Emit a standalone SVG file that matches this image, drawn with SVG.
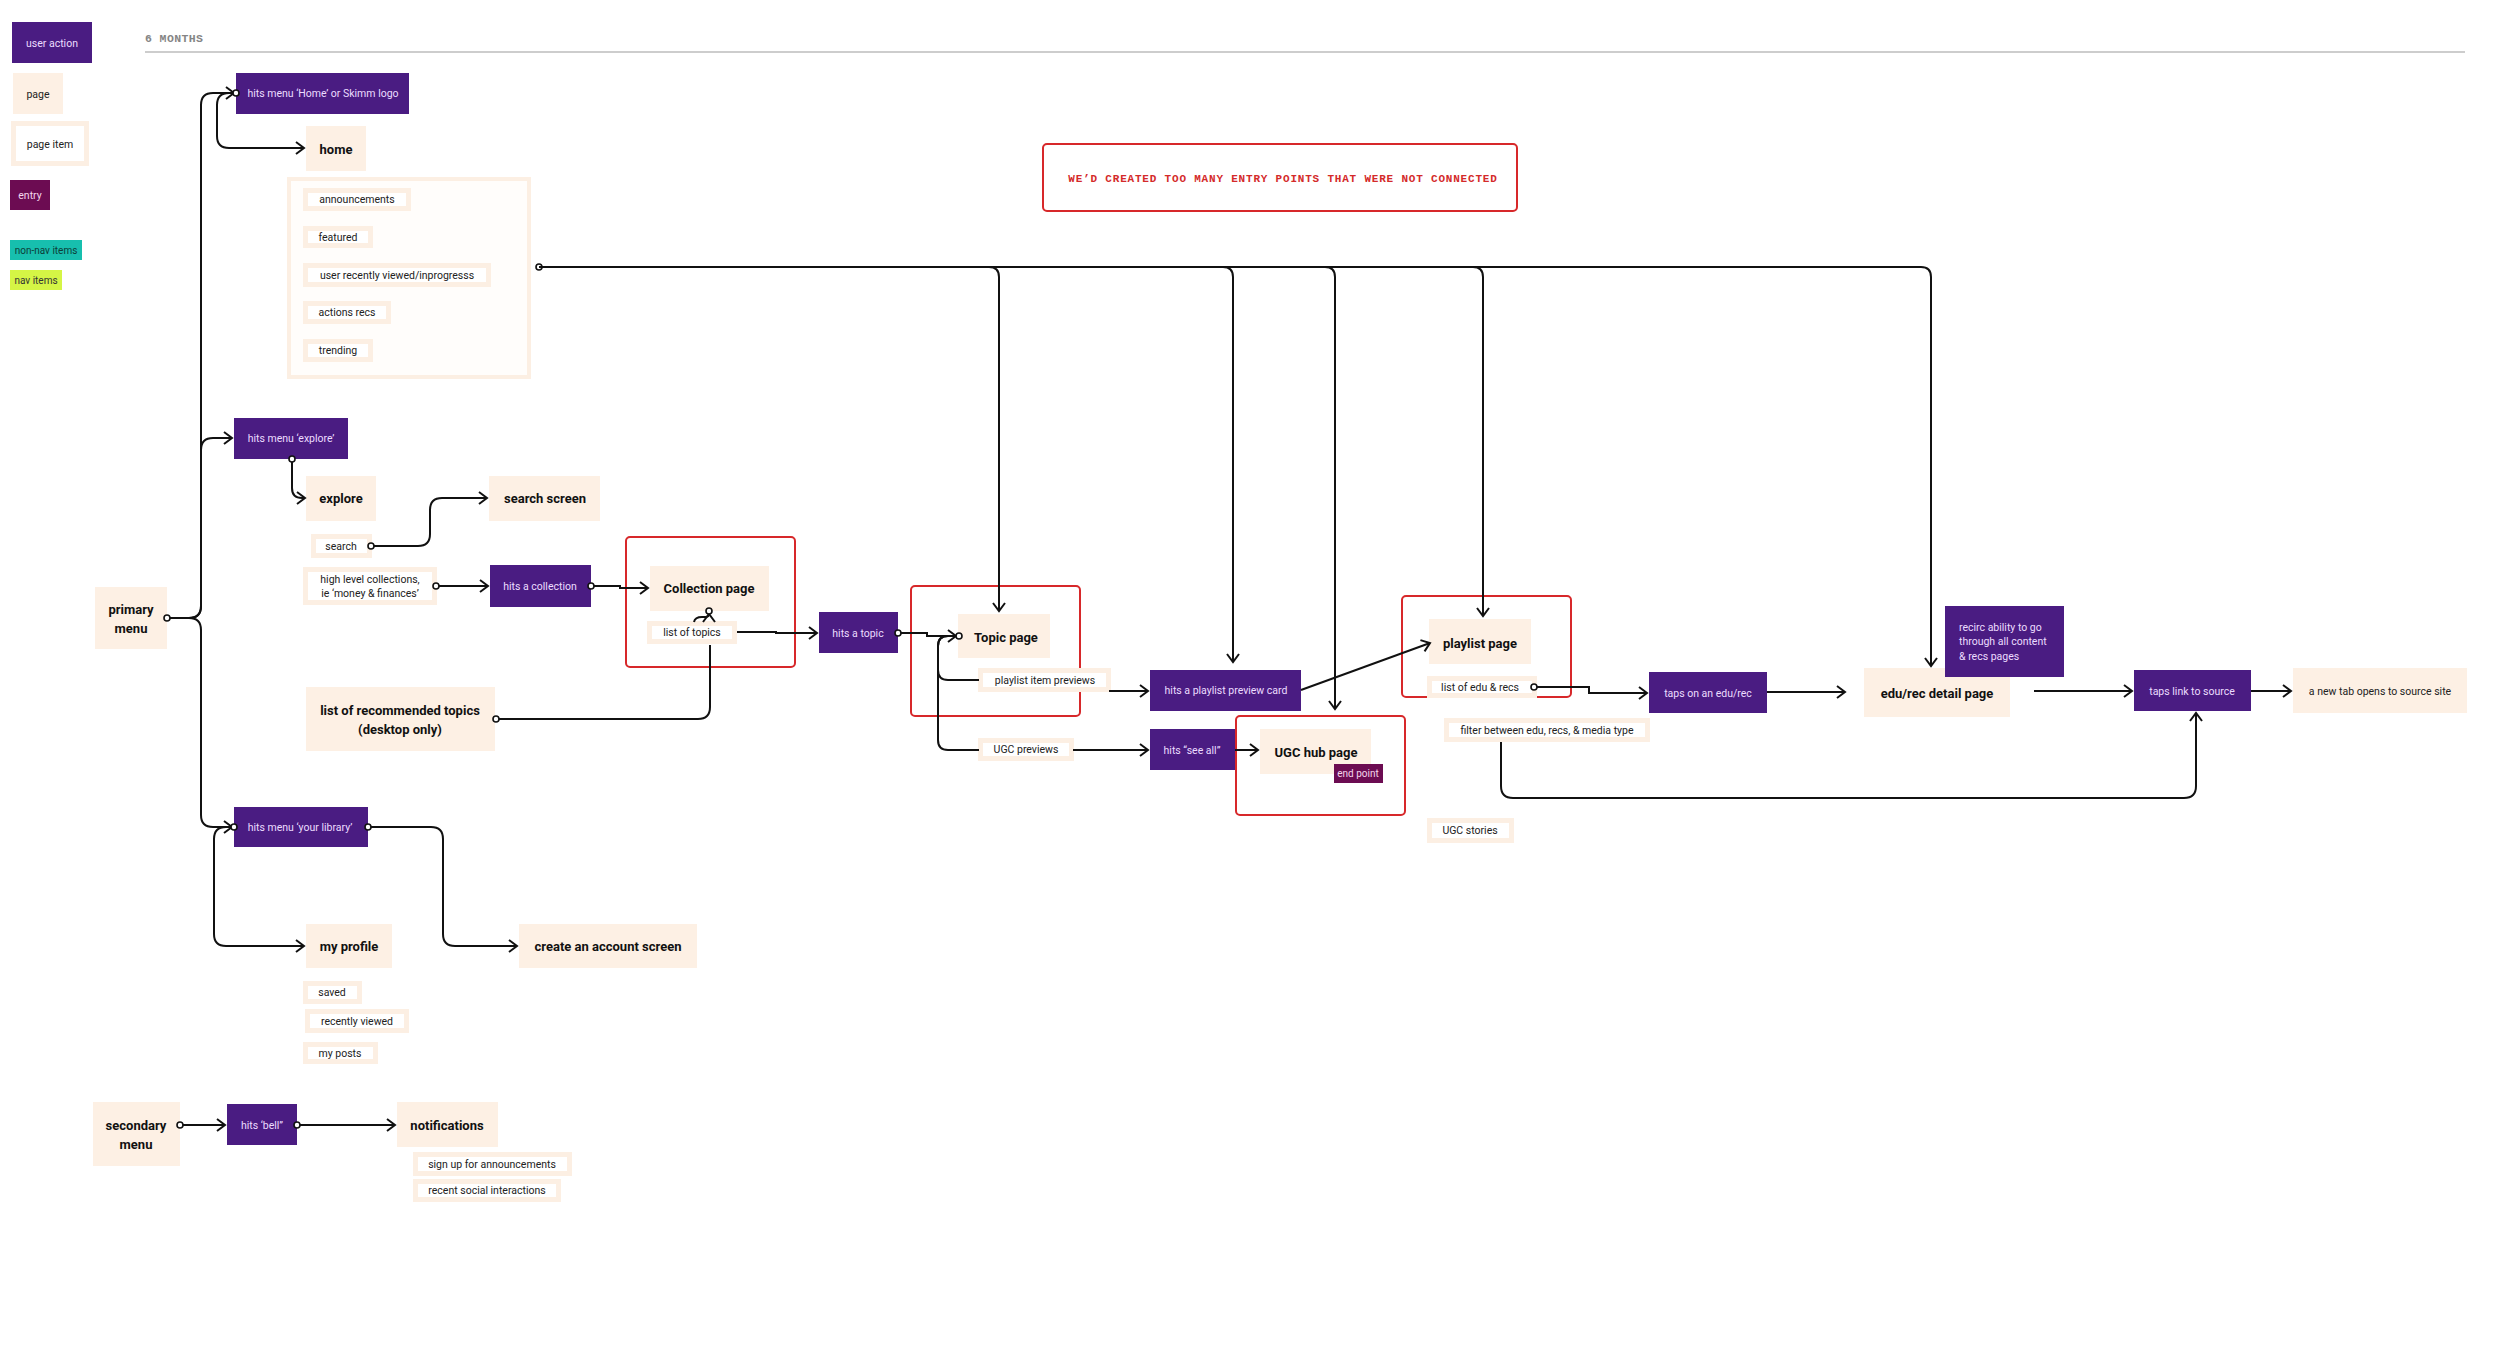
<svg xmlns="http://www.w3.org/2000/svg" width="2500" height="1356" viewBox="0 0 2500 1356">
<defs>
<style>
.bg{fill:#ffffff}
.act{fill:#4a1c82}
.pg{fill:#fdf0e4}
.it{fill:#ffffff;stroke:#fcefe3;stroke-width:5}
.ent{fill:#6c0c52}
.red{fill:none;stroke:#d7282a;stroke-width:2}
text{font-family:Roboto,"Liberation Sans",sans-serif;text-anchor:middle;dominant-baseline:central}
.ta{font-size:10.5px;fill:#ecdcff}
.tb{font-size:13px;font-weight:bold;fill:#111}
.ti{font-size:10.5px;fill:#222}
.c{fill:none;stroke:#111;stroke-width:2}
.mono{font-family:"Liberation Mono","DejaVu Sans Mono",monospace;font-weight:bold}
</style>
<marker id="arr" viewBox="-10 -8 12 16" refX="0" refY="0" markerWidth="12" markerHeight="16" markerUnits="userSpaceOnUse" orient="auto">
<path d="M-8,-6 L0,0 L-8,6" fill="none" stroke="#111" stroke-width="2"/>
</marker>
<marker id="dot" viewBox="-5 -5 10 10" refX="0" refY="0" markerWidth="10" markerHeight="10" markerUnits="userSpaceOnUse">
<circle cx="0" cy="0" r="3" fill="#fff" stroke="#111" stroke-width="1.6"/>
</marker>
</defs>
<rect class="bg" x="0" y="0" width="2500" height="1356"/>

<!-- legend -->
<g id="legend">
<rect class="act" x="12" y="22" width="80" height="41"/><text class="ta" x="52" y="43">user action</text>
<rect class="pg" x="13" y="73" width="50" height="41"/><text class="ti" x="38" y="94">page</text>
<rect class="it" x="13.5" y="123.5" width="73" height="40"/><text class="ti" x="50" y="144">page item</text>
<rect class="ent" x="10" y="180" width="40" height="30"/><text x="30" y="195" style="font-size:10.5px;fill:#f4d6ec">entry</text>
<rect x="10" y="240" width="72" height="20" fill="#17bfae"/><text x="46" y="250" style="font-size:10px;fill:#0d3d38">non-nav items</text>
<rect x="10" y="270" width="52" height="20" fill="#d5f545"/><text x="36" y="280" style="font-size:10px;fill:#333">nav items</text>
</g>

<g id="timeline">
<text class="mono" x="145" y="38" style="text-anchor:start;font-size:11.5px;letter-spacing:0.4px;fill:#858585">6 MONTHS</text>
<line x1="145" y1="52" x2="2465" y2="52" stroke="#bdbdbd" stroke-width="1.5"/>
</g>

<g id="note">
<rect class="red" x="1043" y="144" width="474" height="67" rx="4"/>
<text class="mono" x="1283" y="179" style="font-size:11px;letter-spacing:0.8px;fill:#d42a2a">WE’D CREATED TOO MANY ENTRY POINTS THAT WERE NOT CONNECTED</text>
</g>

<!-- red highlight boxes -->
<g id="highlights">
<rect class="red" x="626" y="537" width="169" height="130" rx="4"/>
<rect class="red" x="911" y="586" width="169" height="130" rx="4"/>
<rect class="red" x="1236" y="716" width="169" height="99" rx="4"/>
<rect class="red" x="1402" y="596" width="169" height="101" rx="4"/>
</g>

<!-- home section -->
<g id="n-hits-home"><rect class="act" x="236" y="73" width="173" height="41"/><text class="ta" x="323" y="93">hits menu ‘Home’ or Skimm logo</text></g>
<g id="n-home"><rect class="pg" x="306" y="126" width="60" height="45"/><text class="tb" x="336" y="149">home</text></g>
<g id="n-home-items">
<rect x="289" y="179" width="240" height="198" fill="#fffdfb" stroke="#fcefe3" stroke-width="4"/>
<rect class="it" x="305.5" y="190.5" width="103" height="18"/><text class="ti" x="357" y="199.5">announcements</text>
<rect class="it" x="305.5" y="228.5" width="65" height="17"/><text class="ti" x="338" y="237">featured</text>
<rect class="it" x="305.5" y="265.5" width="183" height="19"/><text class="ti" x="397" y="275">user recently viewed/inprogresss</text>
<rect class="it" x="305.5" y="303.5" width="83" height="18"/><text class="ti" x="347" y="312.5">actions recs</text>
<rect class="it" x="305.5" y="341.5" width="65" height="18"/><text class="ti" x="338" y="350.5">trending</text>
</g>

<!-- primary menu -->
<g id="n-primary"><rect class="pg" x="95" y="587" width="72" height="62"/><text class="tb" x="131" y="609">primary</text><text class="tb" x="131" y="628">menu</text></g>

<!-- explore section -->
<g id="n-hits-explore"><rect class="act" x="234" y="418" width="114" height="41"/><text class="ta" x="291" y="438">hits menu ‘explore’</text></g>
<g id="n-explore"><rect class="pg" x="306" y="476" width="70" height="45"/><text class="tb" x="341" y="498">explore</text></g>
<g id="n-search-screen"><rect class="pg" x="489" y="476" width="111" height="45"/><text class="tb" x="545" y="498">search screen</text></g>
<g id="n-search"><rect class="it" x="313.5" y="536.5" width="56" height="19"/><text class="ti" x="341" y="546">search</text></g>
<g id="n-high-level"><rect class="it" x="305.5" y="569.5" width="129" height="33"/><text class="ti" x="370" y="579">high level collections,</text><text class="ti" x="370" y="593">ie ‘money &amp; finances’</text></g>
<g id="n-hits-collection"><rect class="act" x="490" y="565" width="101" height="42"/><text class="ta" x="540" y="586">hits a collection</text></g>
<g id="n-collection"><rect class="pg" x="650" y="566" width="119" height="45"/><text class="tb" x="709" y="588">Collection page</text></g>
<g id="n-list-topics"><rect class="it" x="649.5" y="623.5" width="85" height="18"/><text class="ti" x="692" y="632.5">list of topics</text></g>
<g id="n-rec-topics"><rect class="pg" x="306" y="687" width="189" height="64"/><text class="tb" x="400" y="710">list of recommended topics</text><text class="tb" x="400" y="729">(desktop only)</text></g>

<!-- library section -->
<g id="n-hits-library"><rect class="act" x="234" y="807" width="134" height="40"/><text class="ta" x="300" y="827">hits menu ‘your library’</text></g>
<g id="n-profile"><rect class="pg" x="306" y="924" width="86" height="44"/><text class="tb" x="349" y="946">my profile</text></g>
<g id="n-create-account"><rect class="pg" x="519" y="924" width="178" height="44"/><text class="tb" x="608" y="946">create an account screen</text></g>
<g id="n-saved"><rect class="it" x="305.5" y="983.5" width="54" height="18"/><text class="ti" x="332" y="992.5">saved</text></g>
<g id="n-recently"><rect class="it" x="307.5" y="1011.5" width="99" height="19"/><text class="ti" x="357" y="1021">recently viewed</text></g>
<g id="n-posts"><rect class="it" x="305.5" y="1044.5" width="70" height="17"/><text class="ti" x="340" y="1053">my posts</text></g>

<!-- secondary menu -->
<g id="n-secondary"><rect class="pg" x="93" y="1102" width="87" height="64"/><text class="tb" x="136" y="1125">secondary</text><text class="tb" x="136" y="1144">menu</text></g>
<g id="n-hits-bell"><rect class="act" x="227" y="1104" width="70" height="41"/><text class="ta" x="262" y="1125">hits ‘bell”</text></g>
<g id="n-notifications"><rect class="pg" x="397" y="1102" width="101" height="45"/><text class="tb" x="447" y="1125">notifications</text></g>
<g id="n-signup"><rect class="it" x="415.5" y="1154.5" width="154" height="19"/><text class="ti" x="492" y="1164">sign up for announcements</text></g>
<g id="n-social"><rect class="it" x="415.5" y="1181.5" width="143" height="18"/><text class="ti" x="487" y="1190.5">recent social interactions</text></g>

<!-- topic section -->
<g id="n-hits-topic"><rect class="act" x="819" y="612" width="79" height="41"/><text class="ta" x="858" y="633">hits a topic</text></g>
<g id="n-topic"><rect class="pg" x="958" y="614" width="92" height="44"/><text class="tb" x="1006" y="637">Topic page</text></g>
<g id="n-playlist-previews"><rect class="it" x="980.5" y="670.5" width="128" height="19"/><text class="ti" x="1045" y="680">playlist item previews</text></g>
<g id="n-ugc-previews"><rect class="it" x="980.5" y="740.5" width="91" height="18"/><text class="ti" x="1026" y="749.5">UGC previews</text></g>
<g id="n-hits-playlist-card"><rect class="act" x="1150" y="670" width="151" height="41"/><text class="ta" x="1226" y="690">hits a playlist preview card</text></g>
<g id="n-hits-see-all"><rect class="act" x="1150" y="729" width="85" height="41"/><text class="ta" x="1192" y="750">hits “see all”</text></g>
<g id="n-ugc-hub"><rect class="pg" x="1260" y="729" width="111" height="45"/><text class="tb" x="1316" y="752">UGC hub page</text></g>
<g id="n-end-point"><rect class="ent" x="1334" y="764" width="49" height="19"/><text x="1358" y="773.5" style="font-size:10px;fill:#f4d6ec">end point</text></g>
<g id="n-ugc-stories"><rect class="it" x="1429.5" y="820.5" width="82" height="20"/><text class="ti" x="1470" y="830.5">UGC stories</text></g>

<!-- playlist section -->
<g id="n-playlist"><rect class="pg" x="1429" y="619" width="102" height="45"/><text class="tb" x="1480" y="643">playlist page</text></g>
<g id="n-list-edu"><rect class="it" x="1429.5" y="678.5" width="105" height="17"/><text class="ti" x="1480" y="687">list of edu &amp; recs</text></g>
<g id="n-filter"><rect class="it" x="1446.5" y="720.5" width="201" height="19"/><text class="ti" x="1547" y="730">filter between edu, recs, &amp; media type</text></g>
<g id="n-taps-edu"><rect class="act" x="1649" y="672" width="118" height="41"/><text class="ta" x="1708" y="693">taps on an edu/rec</text></g>
<g id="n-edu-detail"><rect class="pg" x="1864" y="668" width="146" height="49"/><text class="tb" x="1937" y="693">edu/rec detail page</text></g>
<g id="n-recirc"><rect class="act" x="1945" y="606" width="119" height="71"/>
<text class="ta" x="1959" y="627" style="text-anchor:start">recirc ability to go</text>
<text class="ta" x="1959" y="641.5" style="text-anchor:start">through all content</text>
<text class="ta" x="1959" y="656" style="text-anchor:start">&amp; recs pages</text></g>
<g id="n-taps-source"><rect class="act" x="2134" y="670" width="117" height="41"/><text class="ta" x="2192" y="691">taps link to source</text></g>
<g id="n-new-tab"><rect class="pg" x="2293" y="668" width="174" height="45"/><text class="ti" x="2380" y="691">a new tab opens to source site</text></g>

<!-- connectors -->
<g id="connectors">
<path class="c" marker-end="url(#arr)" d="M167,618 H189 Q201,618 201,606 V105 Q201,93 213,93 H234"/>
<path class="c" marker-end="url(#arr)" d="M167,618 H189 Q201,618 201,606 V450 Q201,438 213,438 H232"/>
<path class="c" marker-start="url(#dot)" marker-end="url(#arr)" d="M167,618 H189 Q201,618 201,630 V815 Q201,827 213,827 H232"/>
<path class="c" marker-start="url(#dot)" marker-end="url(#arr)" d="M236,93 H229 Q217,93 217,105 V136 Q217,148 229,148 H304"/>
<path class="c" marker-start="url(#dot)" marker-end="url(#arr)" d="M292,459 V488 Q292,498 302,498 H305"/>
<path class="c" marker-start="url(#dot)" marker-end="url(#arr)" d="M371,546 H418 Q430,546 430,534 V510 Q430,498 442,498 H487"/>
<path class="c" marker-start="url(#dot)" marker-end="url(#arr)" d="M436,586 H488"/>
<path class="c" marker-start="url(#dot)" marker-end="url(#arr)" d="M591,586 H620 V588 H648"/>
<path class="c" marker-end="url(#arr)" d="M694,622 Q695,617 702,617 H705 Q709,617 709,614"/>
<circle cx="709" cy="611" r="3" fill="#fff" stroke="#111" stroke-width="1.6"/>
<path class="c" marker-end="url(#arr)" d="M737,632 H776 V633 H817"/>
<path class="c" marker-start="url(#dot)" d="M496,719 H698 Q710,719 710,707 V645"/>
<path class="c" marker-start="url(#dot)" marker-end="url(#arr)" d="M898,633 H927 V636 H956"/>
<path class="c" d="M959,636 H948 Q938,636 938,646 V670 Q938,680 948,680 H979"/>
<path class="c" marker-start="url(#dot)" d="M959,636 H948 Q938,636 938,646 V740 Q938,750 948,750 H979"/>
<path class="c" marker-end="url(#arr)" d="M1109,691 H1148"/>
<path class="c" marker-end="url(#arr)" d="M1073,750 H1148"/>
<path class="c" marker-end="url(#arr)" d="M1235,750 H1258"/>
<path class="c" marker-end="url(#arr)" d="M1301,690 L1430,643"/>
<path class="c" marker-start="url(#dot)" marker-end="url(#arr)" d="M1534,687 H1589 V693 H1647"/>
<path class="c" marker-end="url(#arr)" d="M1767,692 H1845"/>
<path class="c" marker-end="url(#arr)" d="M2034,691 H2132"/>
<path class="c" marker-end="url(#arr)" d="M2251,691 H2291"/>
<path class="c" marker-end="url(#arr)" d="M1501,742 V786 Q1501,798 1513,798 H2184 Q2196,798 2196,786 V713"/>
<path class="c" marker-start="url(#dot)" marker-end="url(#arr)" d="M539,267 H1921 Q1931,267 1931,277 V666"/>
<path class="c" marker-end="url(#arr)" d="M539,267 H989 Q999,267 999,277 V611"/>
<path class="c" marker-end="url(#arr)" d="M539,267 H1223 Q1233,267 1233,277 V662"/>
<path class="c" marker-end="url(#arr)" d="M539,267 H1325 Q1335,267 1335,277 V709"/>
<path class="c" marker-end="url(#arr)" d="M539,267 H1473 Q1483,267 1483,277 V616"/>
<path class="c" marker-start="url(#dot)" marker-end="url(#arr)" d="M234,827 H226 Q214,827 214,839 V934 Q214,946 226,946 H304"/>
<path class="c" marker-start="url(#dot)" marker-end="url(#arr)" d="M368,827 H431 Q443,827 443,839 V934 Q443,946 455,946 H517"/>
<path class="c" marker-start="url(#dot)" marker-end="url(#arr)" d="M180,1125 H225"/>
<path class="c" marker-start="url(#dot)" marker-end="url(#arr)" d="M297,1125 H395"/>
</g>
</svg>
